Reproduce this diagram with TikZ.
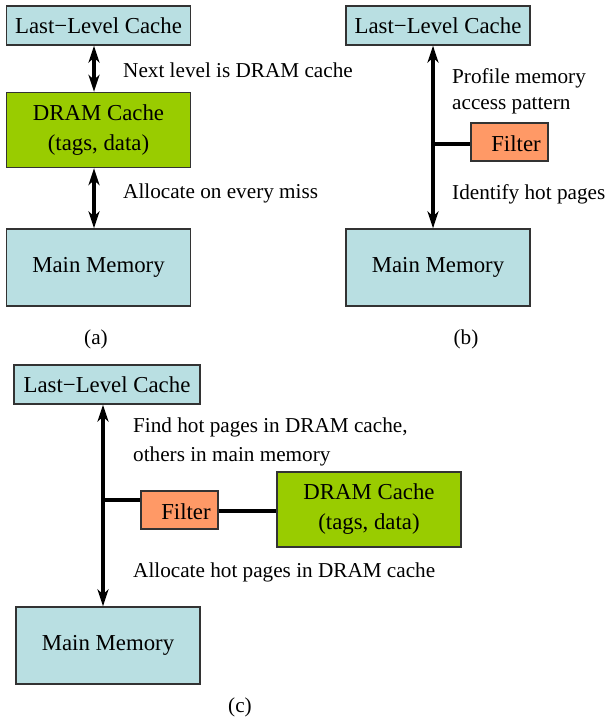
\documentclass[tikz,border=0pt]{standalone}
\usepackage{fontspec}
\setmainfont{Liberation Serif}
\usetikzlibrary{arrows.meta}
\definecolor{lblue}{HTML}{B9DFE2}
\definecolor{lgreen}{HTML}{99CC00}
\definecolor{lorange}{HTML}{FF9966}
\definecolor{edge}{HTML}{333333}
\tikzset{
  box/.style={draw=edge, line width=1.3bp, inner sep=0pt, align=center,
    font=\fontsize{22.8bp}{30bp}\selectfont},
  bluebox/.style={box, fill=lblue, minimum width=184bp},
  greenbox/.style={box, fill=lgreen, minimum width=184bp, minimum height=75bp},
  filterbox/.style={box, fill=lorange, minimum width=77bp, minimum height=38bp},
  lbl/.style={anchor=west, inner sep=0pt, font=\fontsize{21.2bp}{28bp}\selectfont},
  captxt/.style={inner sep=0pt, font=\fontsize{21.2bp}{28bp}\selectfont},
  link/.style={line width=4bp},
  dlink/.style={line width=4bp, {Stealth[length=17bp,width=11bp,inset=5bp]}-{Stealth[length=17bp,width=11bp,inset=5bp]}},
}
\begin{document}
\begin{tikzpicture}[x=1bp,y=-1bp]
\useasboundingbox (0,0) rectangle (608,719);
% (a)
\node[bluebox, minimum height=39bp] (llcA) at (98.5,25.5) {\raisebox{-2bp}{Last−Level Cache}};
\node[greenbox] (dramA) at (98.5,130) {DRAM Cache\\(tags, data)};
\node[bluebox, minimum height=77bp] (mmA) at (98.5,267.5) {\raisebox{-2bp}{Main Memory}};
\coordinate (xA) at (94,0);
\draw[dlink] (xA |- llcA.south) -- (xA |- dramA.north);
\draw[dlink] (xA |- dramA.south) -- (xA |- mmA.north);
\node[lbl] (tA1) at (123,70) {Next level is DRAM cache};
\node[lbl] (tA2) at (123,193) {Allocate on every miss};
\node[captxt] (capA) at (96,339) {(a)};
% (b)
\node[bluebox, minimum height=39bp] (llcB) at (438,25.5) {\raisebox{-2bp}{Last−Level Cache}};
\node[bluebox, minimum height=77bp] (mmB) at (438,267.5) {\raisebox{-2bp}{Main Memory}};
\node[filterbox] (filterB) at (509.5,142) {};
\node[box, draw=none] (filterBt) at (516,144) {Filter};
\coordinate (jB) at (433,144);
\draw[dlink] (jB |- llcB.south) -- (jB |- mmB.north);
\draw[link] (jB) -- (jB -| filterB.west);
\node[lbl] (tB1) at (452,78) {Profile memory};
\node[lbl] (tB2) at (452,106) {access pattern};
\node[lbl] (tB3) at (452,194) {Identify hot pages};
\node[captxt] (capB) at (466,339) {(b)};
% (c)
\node[bluebox, minimum height=39bp, minimum width=186bp] (llcC) at (107,384.5) {\raisebox{-2bp}{Last−Level Cache}};
\node[filterbox] (filterC) at (179.5,510) {};
\node[box, draw=none] (filterCt) at (186,512) {Filter};
\node[greenbox] (dramC) at (369,509.5) {DRAM Cache\\(tags, data)};
\node[bluebox, minimum height=77bp] (mmC) at (108,645.5) {\raisebox{-2bp}{Main Memory}};
\coordinate (jC) at (103,500);
\coordinate (rC) at (0,511);
\draw[dlink] (jC |- llcC.south) -- (jC |- mmC.north);
\draw[link] (jC) -- (jC -| filterC.west);
\draw[link] (filterC.east |- rC) -- (dramC.west |- rC);
\node[lbl] (tC1) at (133,427) {Find hot pages in DRAM cache,};
\node[lbl] (tC2) at (133,456) {others in main memory};
\node[lbl] (tC3) at (133,572) {Allocate hot pages in DRAM cache};
\node[captxt] (capC) at (240,707) {(c)};
\end{tikzpicture}
\end{document}
